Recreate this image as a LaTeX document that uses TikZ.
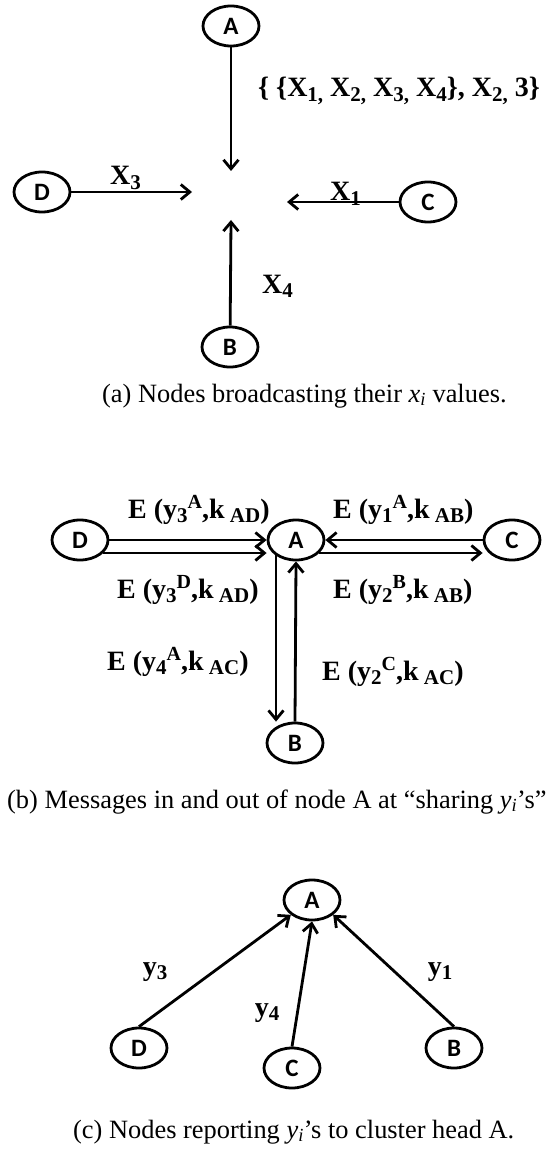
\documentclass[tikz,border=0pt]{standalone}
\usepackage{fontspec}
\setmainfont{Liberation Serif}
\newfontfamily\nodefont{Carlito}
\usetikzlibrary{shapes.geometric,arrows.meta,calc}
% lowered / raised indices for the bold labels
\newcommand\lo[1]{\raisebox{-0.35ex}{\fontsize{21}{21}\selectfont #1}}
\newcommand\hi[1]{\raisebox{0.75ex}{\fontsize{20}{20}\selectfont #1}}

\begin{document}
\begin{tikzpicture}[x=1pt,y=-1pt,
  peer/.style={ellipse,draw,line width=2.8pt,minimum width=56pt,minimum height=40pt,
    inner sep=0pt,font=\nodefont\bfseries\fontsize{25}{25}\selectfont},
  msg/.style={line width=2.8pt,-{Straight Barb[length=9pt,width=15pt]}},
  lbl/.style={font=\fontsize{28}{30}\selectfont\bfseries,inner sep=0pt},
  captxt/.style={font=\fontsize{26.4}{30}\selectfont,inner sep=0pt,anchor=base west}]
\clip (0,0) rectangle (557,1150);

% ---------- (a) broadcasting x_i ----------
\node[peer] (a-A) at (231,26) {A};
\node[peer] (a-D) at (42,192) {D};
\node[peer] (a-C) at (428,202) {C};
\node[peer] (a-B) at (230,347) {B};
\coordinate (a-tA) at (231,171);
\coordinate (a-tD) at (192,192);
\coordinate (a-tC) at (287,202);
\coordinate (a-tB) at (231,220);
\draw[msg] (a-A) -- (a-tA);
\draw[msg] (a-D) -- (a-tD);
\draw[msg] (a-C) -- (a-tC);
\draw[msg] (a-B) -- (a-tB);
\node[lbl,anchor=base west] (a-set) at (258,97)
  {\{ \{X\lo{1,} X\lo{2,} X\lo{3,} X\lo{4}\}, X\lo{2,} 3\}};
\node[lbl,anchor=base west] (a-x3) at (110,185) {X\lo{3}};
\node[lbl,anchor=base west] (a-x1) at (330,201) {X\lo{1}};
\node[lbl,anchor=base west] (a-x4) at (262,293) {X\lo{4}};
\node[captxt] (cap-a) at (102,402) {(a) Nodes broadcasting their \textit{x}\textsubscript{\textit{i}} values.};

% ---------- (b) sharing y_i ----------
\node[peer] (b-D) at (80,540) {D};
\node[peer] (b-A) at (296,540) {A};
\node[peer] (b-C) at (512,540) {C};
\node[peer] (b-B) at (295,743) {B};
\draw[msg] (b-D.east) -- (b-A.west);
\draw[msg] ($(b-D.east)+(-6,13)$) -- ($(b-A.west)+(0,13)$);
\draw[msg] (b-C.west) -- (b-A.east);
\draw[msg] ($(b-A.east)+(-6,13)$) -- ($(b-C.west)+(0,13)$);
\draw[msg] ($(b-A.south)+(-20,-6)$) -- ($(b-B.north)+(-19,0)$);
\draw[msg] (b-B.north) -- (b-A.south);
\node[lbl,anchor=base west] (b-m1) at (128,518) {E (y\lo{3}\hi{A},k\lo{\ AD})};
\node[lbl,anchor=base west] (b-m2) at (333,518) {E (y\lo{1}\hi{A},k\lo{\ AB})};
\node[lbl,anchor=base west] (b-m3) at (117,598) {E (y\lo{3}\hi{D},k\lo{\ AD})};
\node[lbl,anchor=base west] (b-m4) at (333,598) {E (y\lo{2}\hi{B},k\lo{\ AB})};
\node[lbl,anchor=base west] (b-m5) at (107,670) {E (y\lo{4}\hi{A},k\lo{\ AC})};
\node[lbl,anchor=base west] (b-m6) at (322,680) {E (y\lo{2}\hi{C},k\lo{\ AC})};
\node[captxt] (cap-b) at (7,808) {(b) Messages in and out of node A at “sharing \textit{y}\textsubscript{\textit{i}}’s”};

% ---------- (c) reporting to the cluster head ----------
\node[peer] (c-A) at (312,900) {A};
\node[peer] (c-D) at (139,1048) {D};
\node[peer] (c-C) at (292,1068) {C};
\node[peer] (c-B) at (454,1048) {B};
\draw[msg] (c-D.north) -- (c-A.215);
\draw[msg] (c-C.north) -- (c-A.south);
\draw[msg] (c-B.north) -- (c-A.-35);
\node[lbl] (c-y3) at (155,972) {y\lo{3}};
\node[lbl] (c-y4) at (267,1013) {y\lo{4}};
\node[lbl] (c-y1) at (440,972) {y\lo{1}};
\node[captxt] (cap-c) at (73,1138) {(c) Nodes reporting \textit{y}\textsubscript{\textit{i}}’s to cluster head A.};
\end{tikzpicture}
\end{document}
